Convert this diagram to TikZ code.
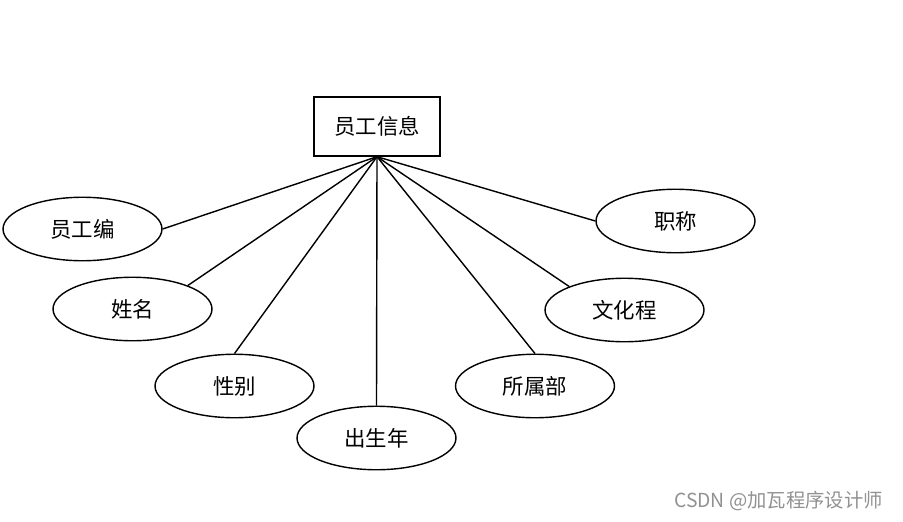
\documentclass[tikz,border=0pt]{standalone}
\usepackage{fontspec}
\setmainfont{Liberation Sans}
\newfontfamily\cjk{Noto Sans CJK SC}
\usepackage{xcolor}
\usepackage{tikz}
\usetikzlibrary{shapes.geometric}
\definecolor{markgray}{RGB}{145,145,145}
\tikzset{
  entity/.style={
    draw,
    line width=0.8pt,
    minimum width=2.52cm,
    minimum height=1.18cm,
    inner sep=0pt,
    font=\cjk\fontsize{12.2}{14}\selectfont
  },
  attr/.style={
    ellipse,
    draw,
    line width=0.8pt,
    minimum width=3.18cm,
    minimum height=1.27cm,
    inner sep=0pt,
    font=\cjk\fontsize{12.2}{14}\selectfont
  },
  link/.style={line width=0.8pt}
}
\begin{document}
\begin{tikzpicture}[x=0.02cm,y=-0.02cm]
  \useasboundingbox (0,0) rectangle (903,521);
  \node[entity] (info) at (377,126.5) {员工信息};
  \coordinate (hub) at (info.south);

  \node[attr] (id) at (82.5,229) {员工编};
  \node[attr] (name) at (132.5,309) {姓名};
  \node[attr] (sex) at (234.5,386) {性别};
  \node[attr] (birth) at (376.5,438) {出生年};
  \node[attr] (dept) at (535,386) {所属部};
  \node[attr] (edu) at (624.5,310) {文化程};
  \node[attr] (title) at (675.5,221) {职称};

  \draw[link] (hub) -- (id.east);
  \draw[link] (hub) -- (name.23);
  \draw[link] (hub) -- (sex.north);
  \draw[link] (hub) -- (birth.north);
  \draw[link] (hub) -- (dept.north);
  \draw[link] (hub) -- (edu.157);
  \draw[link] (hub) -- (title.west);

  \node[text=markgray, font=\cjk\fontsize{11}{13}\selectfont, anchor=east] (mark) at (889,501) {CSDN @加瓦程序设计师};
\end{tikzpicture}
\end{document}
